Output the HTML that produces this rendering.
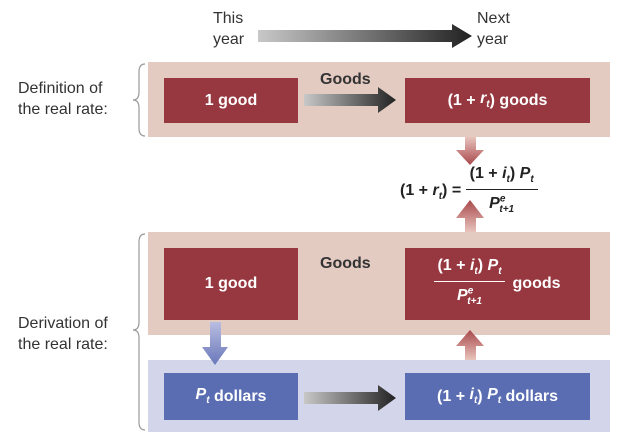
<!DOCTYPE html>
<html><head><style>
body{margin:0;width:618px;height:448px;background:#fff;position:relative;font-family:"Liberation Sans",Arial,sans-serif;overflow:hidden}
.a{position:absolute}
.box{position:absolute;color:#fff;font-weight:bold;font-size:16px;display:flex;align-items:center;justify-content:center}
.red{background:#973840}
.blue{background:#5a6db3}
.lbl{position:absolute;font-size:16px;color:#333;line-height:21px}
</style></head><body>
<div class="lbl" style="left:213px;top:8px">This<br>year</div>
<div class="lbl" style="left:477px;top:8px">Next<br>year</div>
<svg class="a" style="left:0;top:0" width="618" height="448">
<defs>
<linearGradient id="g" x1="0" x2="1"><stop offset="0" stop-color="#c8c8c8"/><stop offset="1" stop-color="#222"/></linearGradient>
<linearGradient id="gr" x1="0" y1="1" x2="0" y2="0"><stop offset="0" stop-color="#e8c4bc"/><stop offset="1" stop-color="#a8484c"/></linearGradient>
<linearGradient id="gr2" x1="0" y1="0" x2="0" y2="1"><stop offset="0" stop-color="#e8c4bc"/><stop offset="1" stop-color="#a8484c"/></linearGradient>
<linearGradient id="gb" x1="0" y1="0" x2="0" y2="1"><stop offset="0" stop-color="#b8bde0"/><stop offset="1" stop-color="#6a78bb"/></linearGradient>
</defs>
<polygon points="258,30 452,30 452,24 472,36 452,48 452,42 258,42" fill="url(#g)"/>
<rect x="148" y="62" width="462" height="75" fill="#e3cbc1"/>
<rect x="148" y="232" width="462" height="103" fill="#e3cbc1"/>
<rect x="148" y="360" width="462" height="72" fill="#d3d5ea"/>
<polygon points="304,94 378,94 378,87 396,100 378,113 378,106 304,106" fill="url(#g)"/>
<polygon points="304,392 378,392 378,385 396,398 378,411 378,404 304,404" fill="url(#g)"/>
<polygon points="465,137 476,137 476,150 484,150 470,165 456,150 465,150" fill="url(#gr2)"/>
<polygon points="465,232 476,232 476,218 484,218 470,200 456,218 465,218" fill="url(#gr)"/>
<polygon points="465,360 476,360 476,346 484,346 470,330 456,346 465,346" fill="url(#gr)"/>
<polygon points="210,322 221,322 221,347 228,347 215,365 202,347 210,347" fill="url(#gb)"/>
<path d="M145,64 Q139,64 139,72 L139,92 Q139,100 133,100 Q139,100 139,108 L139,128 Q139,136 145,136" fill="none" stroke="#999" stroke-width="1.2"/>
<path d="M145,234 Q139,234 139,242 L139,322 Q139,330 133,330 Q139,330 139,338 L139,422 Q139,430 145,430" fill="none" stroke="#999" stroke-width="1.2"/>
</svg>
<div class="lbl" style="left:18px;top:78px">Definition of<br>the real rate:</div>
<div class="lbl" style="left:18px;top:313px">Derivation of<br>the real rate:</div>
<div class="lbl" style="left:320px;top:69px;font-weight:bold">Goods</div>
<div class="lbl" style="left:320px;top:253px;font-weight:bold">Goods</div>
<div class="box red" style="left:164px;top:78px;width:134px;height:45px">1 good</div>
<div class="box red" style="left:405px;top:78px;width:185px;height:45px">(1 +&nbsp;<i>r<sub style="font-size:10px">t</sub></i>) goods</div>
<div class="box red" style="left:164px;top:248px;width:134px;height:72px">1 good</div>
<div class="box red" style="left:405px;top:248px;width:185px;height:72px">
<div style="text-align:center;line-height:18px"><div style="border-bottom:1px solid #fff;padding:0 3px">(1 +&nbsp;<i>i<sub style="font-size:10px">t</sub></i>) <i>P<sub style="font-size:10px">t</sub></i></div><div><i>P<sup style="font-size:10px">e</sup><sub style="font-size:10px;margin-left:-6px">t+1</sub></i></div></div>
<span style="margin-left:8px">goods</span></div>
<div class="box blue" style="left:164px;top:373px;width:134px;height:47px"><i>P<sub style="font-size:10px">t</sub></i>&nbsp;dollars</div>
<div class="box blue" style="left:405px;top:373px;width:185px;height:47px">(1 +&nbsp;<i>i<sub style="font-size:10px">t</sub></i>)&nbsp; <i>P<sub style="font-size:10px">t</sub></i>&nbsp;dollars</div>
<div class="a" style="left:400px;top:165px;display:flex;align-items:center;font-weight:bold;font-size:16px;color:#222">
<span>(1 +&nbsp;<i>r<sub style="font-size:10px">t</sub></i>) =&nbsp;</span>
<div style="text-align:center;line-height:18px"><div style="border-bottom:1.5px solid #222;padding:0 4px">(1 +&nbsp;<i>i<sub style="font-size:10px">t</sub></i>) <i>P<sub style="font-size:10px">t</sub></i></div><div><i>P<sup style="font-size:10px">e</sup><sub style="font-size:10px;margin-left:-6px">t+1</sub></i></div></div>
</div>
</body></html>
